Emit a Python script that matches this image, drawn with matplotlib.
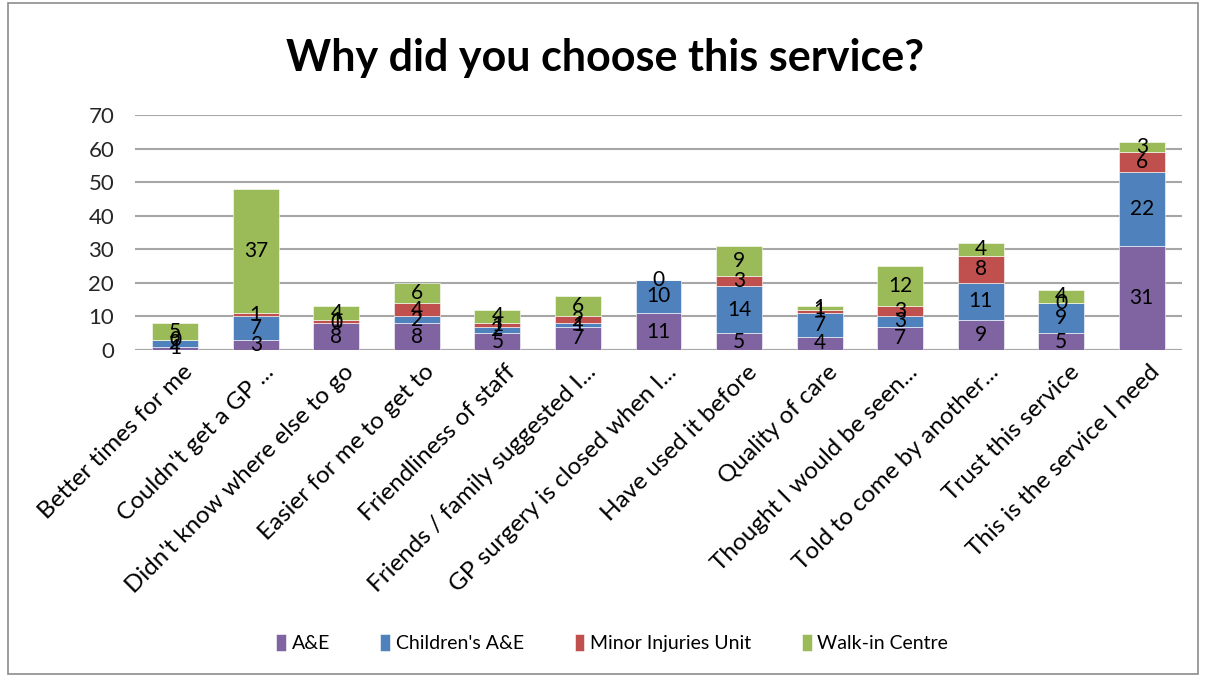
import numpy as np
import matplotlib.pyplot as plt
import matplotlib.transforms as mtransforms
from matplotlib.patches import Rectangle

plt.rcParams['font.family'] = ['Lato', 'DejaVu Sans']

categories = [
    "Better times for me",
    "Couldn't get a GP ...",
    "Didn't know where else to go",
    "Easier for me to get to",
    "Friendliness of staff",
    "Friends / family suggested I...",
    "GP surgery is closed when I...",
    "Have used it before",
    "Quality of care",
    "Thought I would be seen...",
    "Told to come by another...",
    "Trust this service",
    "This is the service I need",
]

ae = [1, 3, 8, 8, 5, 7, 11, 5, 4, 7, 9, 5, 31]
childrens_ae = [2, 7, 0, 2, 2, 1, 10, 14, 7, 3, 11, 9, 22]
minor_injuries = [0, 1, 1, 4, 1, 2, 0, 3, 1, 3, 8, 0, 6]
walk_in = [5, 37, 4, 6, 4, 6, None, 9, 1, 12, 4, 4, 3]

series = [
    ("A&E", ae, "#8064A2"),
    ("Children's A&E", childrens_ae, "#4F81BD"),
    ("Minor Injuries Unit", minor_injuries, "#C0504D"),
    ("Walk-in Centre", walk_in, "#9BBB59"),
]

fig = plt.figure(figsize=(12.05, 6.77), dpi=100)
ax = fig.add_axes([135 / 1205, 1 - 350 / 677, (1182 - 135) / 1205, (350 - 115) / 677])

x = np.arange(len(categories))
bottom = np.zeros(len(categories))
for name, vals, color in series:
    v = np.array([0 if val is None else val for val in vals], dtype=float)
    ax.bar(x, v, 0.57, bottom=bottom, color=color, label=name,
           edgecolor='white', linewidth=0.4, zorder=3)
    for i, val in enumerate(vals):
        if val is None:
            continue
        ax.text(x[i], bottom[i] + v[i] / 2, str(val), ha='center', va='center',
                fontsize=15, color='black', zorder=4)
    bottom += v

ax.set_xlim(-0.5, len(categories) - 0.5)
ax.set_ylim(0, 70)
ax.set_yticks(range(0, 71, 10))
ax.yaxis.grid(True, color='#A6A6A6', linewidth=1.5, zorder=0)
ax.set_axisbelow(True)
for s in ax.spines.values():
    s.set_visible(False)
ax.axhline(0, color='#A6A6A6', linewidth=1.5, zorder=2)
ax.tick_params(axis='both', length=0, colors='#262626')
ax.tick_params(axis='y', pad=15, labelsize=16)
ax.set_xticks(x)
ax.set_xticklabels(categories, rotation=45, ha='right', va='top',
                   rotation_mode='anchor', fontsize=17.5, color='black')
ax.tick_params(axis='x', pad=8)
# nudge the slanted category labels a little to the right
shift = mtransforms.ScaledTranslation(7 / 100, 0, fig.dpi_scale_trans)
for lbl in ax.get_xticklabels():
    lbl.set_transform(lbl.get_transform() + shift)

fig.text(0.502, 1 - 58 / 677, "Why did you choose this service?", ha='center', va='center',
         fontsize=31, fontweight='bold')

handles, labels = ax.get_legend_handles_labels()
fig.legend(handles, labels, loc='center', bbox_to_anchor=(0.508, 1 - 643 / 677), ncol=4,
           frameon=False, fontsize=14, handlelength=0.5, handleheight=1.0,
           handletextpad=0.3, columnspacing=2.6)

# outer chart border
fig.patches.append(Rectangle((8 / 1205, 3 / 677), (1198 - 8) / 1205, (674 - 3) / 677,
                             transform=fig.transFigure, fill=False,
                             edgecolor='#8C8C8C', linewidth=1.2))

fig.savefig('out.png', dpi=100)
